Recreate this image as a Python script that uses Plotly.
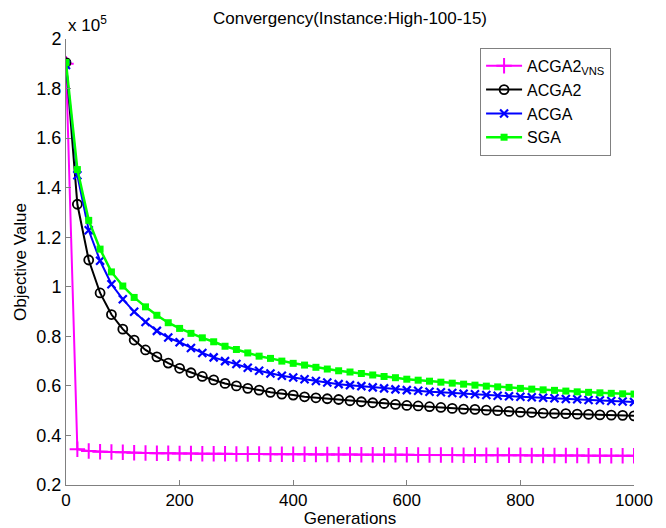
import plotly.graph_objects as go

generations = list(range(0, 1001, 20))

acga2_vns = [1.90, 0.344, 0.337, 0.334, 0.333, 0.332, 0.330, 0.329, 0.328, 0.328, 0.327,
             0.327, 0.326, 0.326, 0.326, 0.325, 0.325, 0.325, 0.324, 0.324, 0.324,
             0.324, 0.323, 0.323, 0.323, 0.323, 0.322, 0.322, 0.322, 0.322, 0.322,
             0.321, 0.321, 0.321, 0.321, 0.320, 0.320, 0.320, 0.320, 0.320, 0.320,
             0.319, 0.319, 0.319, 0.319, 0.319, 0.318, 0.318, 0.318, 0.318, 0.318]

acga2 = [1.905, 1.333, 1.108, 0.975, 0.888, 0.829, 0.785, 0.745, 0.717, 0.692, 0.671,
         0.653, 0.638, 0.624, 0.610, 0.600, 0.590, 0.583, 0.574, 0.567, 0.563,
         0.556, 0.552, 0.548, 0.545, 0.540, 0.536, 0.532, 0.529, 0.525, 0.521,
         0.519, 0.516, 0.513, 0.509, 0.506, 0.505, 0.502, 0.500, 0.497, 0.494,
         0.493, 0.490, 0.489, 0.488, 0.486, 0.485, 0.483, 0.482, 0.481, 0.479]

acga = [1.895, 1.450, 1.228, 1.105, 1.010, 0.950, 0.899, 0.858, 0.822, 0.795, 0.776,
        0.753, 0.733, 0.715, 0.700, 0.688, 0.673, 0.661, 0.650, 0.641, 0.634,
        0.627, 0.620, 0.614, 0.607, 0.603, 0.599, 0.594, 0.590, 0.586, 0.583,
        0.580, 0.576, 0.574, 0.571, 0.568, 0.566, 0.563, 0.560, 0.558, 0.556,
        0.554, 0.552, 0.550, 0.547, 0.546, 0.543, 0.542, 0.539, 0.537, 0.535]

sga = [1.905, 1.473, 1.268, 1.152, 1.060, 1.003, 0.957, 0.919, 0.885, 0.855, 0.832,
       0.812, 0.794, 0.778, 0.760, 0.747, 0.733, 0.720, 0.711, 0.700, 0.691,
       0.684, 0.675, 0.668, 0.661, 0.656, 0.650, 0.644, 0.638, 0.633, 0.627,
       0.623, 0.619, 0.615, 0.611, 0.607, 0.603, 0.599, 0.596, 0.594, 0.590,
       0.587, 0.584, 0.582, 0.579, 0.576, 0.574, 0.572, 0.570, 0.568, 0.567]

x_ticks = [0, 200, 400, 600, 800, 1000]
y_ticks = [0.2, 0.4, 0.6, 0.8, 1.0, 1.2, 1.4, 1.6, 1.8, 2.0]
y_tick_labels = ["0.2", "0.4", "0.6", "0.8", "1", "1.2", "1.4", "1.6", "1.8", "2"]

FONT = "Liberation Sans, Arial, sans-serif"

# The page body has an 8px margin, so the figure is sized to fill the window exactly.
W, H = 658, 520

fig = go.Figure()
fig.add_trace(go.Scatter(
    x=generations, y=acga2_vns, name="ACGA2<sub>VNS</sub>", mode="lines+markers",
    line=dict(color="#ff00ff", width=2),
    marker=dict(symbol="cross-thin", size=11, line=dict(color="#ff00ff", width=2))))
fig.add_trace(go.Scatter(
    x=generations, y=acga2, name="ACGA2", mode="lines+markers",
    line=dict(color="black", width=2),
    marker=dict(symbol="circle-open", size=9, color="black", line=dict(color="black", width=1.8))))
fig.add_trace(go.Scatter(
    x=generations, y=acga, name="ACGA", mode="lines+markers",
    line=dict(color="#0000ff", width=2),
    marker=dict(symbol="x-thin", size=8, line=dict(color="#0000ff", width=2.2))))
fig.add_trace(go.Scatter(
    x=generations, y=sga, name="SGA", mode="lines+markers",
    line=dict(color="#00ff00", width=2.5),
    marker=dict(symbol="square", size=7, color="#00ff00")))

fig.update_layout(
    width=W, height=H,
    margin=dict(l=58, r=32, t=31, b=43),
    paper_bgcolor="white", plot_bgcolor="white",
    font=dict(family=FONT, size=17, color="black"),
    title=dict(text="Convergency(Instance:High-100-15)", x=342 / W, xanchor="center",
               xref="container", yref="container",
               y=1 - 10 / H, yanchor="middle", font=dict(size=17, color="black")),
    showlegend=True,
    legend=dict(x=0.729, y=0.98, xanchor="left", yanchor="top",
                bgcolor="white", bordercolor="#808080", borderwidth=1,
                font=dict(size=16), itemwidth=36, tracegroupgap=0),
    xaxis=dict(range=[0, 1000], tickvals=x_ticks, ticks="inside", ticklen=5,
               tickcolor="#808080", showline=True, linecolor="#808080", linewidth=1,
               showgrid=False, zeroline=False, tickfont=dict(size=17), automargin=False,
               title=dict(text="Generations", font=dict(size=17), standoff=2)),
    yaxis=dict(range=[0.2, 2.0], tickvals=y_ticks, ticktext=y_tick_labels,
               ticks="inside", ticklen=5, tickcolor="#808080", showline=True,
               linecolor="#808080", linewidth=1, showgrid=False, zeroline=False,
               tickfont=dict(size=18), automargin=False,
               title=dict(text="Objective Value", font=dict(size=17), standoff=5)),
)

fig.add_annotation(text="x 10<sup>5</sup>", xref="paper", yref="paper", x=0.0, y=1.0,
                   xanchor="left", yanchor="bottom", showarrow=False,
                   font=dict(size=17, color="black"), yshift=2)

fig.write_html("out.html")
